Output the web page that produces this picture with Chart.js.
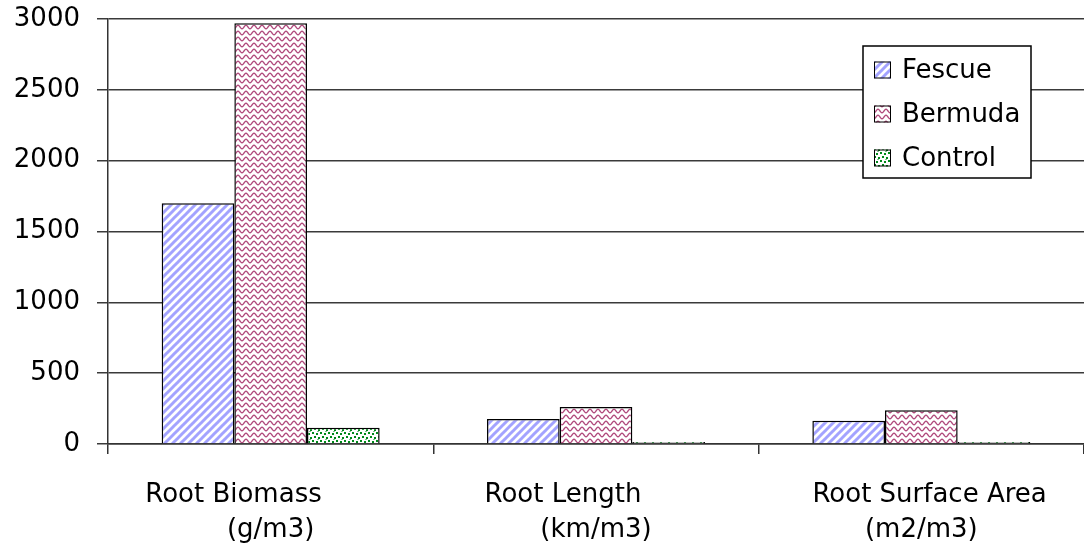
<!DOCTYPE html>
<html><head><meta charset="utf-8">
<script src="https://cdn.jsdelivr.net/npm/chart.js@4.4.0/dist/chart.umd.min.js"></script>
<style>html,body{margin:0;padding:0;background:#fff;}#wrap{width:1084px;height:552px;position:relative;}</style>
</head><body><div id="wrap"><canvas id="c"></canvas></div>
<script>
// ---- data ----
const categories = [['Root Biomass', '(g/m3)'], ['Root Length', '(km/m3)'], ['Root Surface Area', '(m2/m3)']];
const seriesNames = ['Fescue', 'Bermuda', 'Control'];
const fescue = [1700, 176, 165];
const bermuda = [2970, 262, 238];
const control = [115, 15, 15];
const yTicks = [0, 500, 1000, 1500, 2000, 2500, 3000];

// ---- styling ----
const FONT_FAMILY = '"DejaVu Sans", "Liberation Sans", sans-serif';
const FONT_SIZE = 26;
const line1Shift = [-39, -33, 10];

function makePattern(w, h, draw) {
  const c = document.createElement('canvas');
  c.width = w; c.height = h;
  const g = c.getContext('2d');
  g.fillStyle = '#fff'; g.fillRect(0, 0, w, h);
  draw(g);
  return document.getElementById('c').getContext('2d').createPattern(c, 'repeat');
}
const fescuePat = makePattern(8, 8, g => {
  g.strokeStyle = '#a3a3ff'; g.lineWidth = 3;
  [[-1, 9, 9, -1], [-1, 1, 1, -1], [7, 9, 9, 7]].forEach(([a, b, c, d]) => {
    g.beginPath(); g.moveTo(a, b); g.lineTo(c, d); g.stroke();
  });
});
const bermudaPat = makePattern(8, 6, g => {
  g.strokeStyle = '#b04a7c'; g.lineWidth = 1.3;
  g.beginPath();
  for (let x = -1; x <= 9; x += 0.5) {
    const y = 3 + 1.8 * Math.sin(2 * Math.PI * x / 8);
    if (x === -1) g.moveTo(x, y); else g.lineTo(x, y);
  }
  g.stroke();
});
const controlPat = makePattern(8, 8, g => {
  g.fillStyle = '#00891a';
  [[0, 0], [4, 1], [2, 4], [6, 5], [5, 7.5]].forEach(([x, y]) => g.fillRect(x, y % 8, 2, 2));
});
const patterns = [fescuePat, bermudaPat, controlPat];
const seriesValues = [fescue, bermuda, control];

const measureCtx = document.createElement('canvas').getContext('2d');
measureCtx.font = FONT_SIZE + 'px ' + FONT_FAMILY;
function shiftText(t, px) {
  const sp = measureCtx.measureText(' ').width;
  const n = Math.round(Math.abs(px) * 2 / sp);
  const pad = ' '.repeat(n);
  return px < 0 ? t + pad : pad + t;
}

const legendPlugin = {
  id: 'boxLegend',
  afterDraw(chart) {
    const ctx = chart.ctx;
    ctx.save();
    const x = 863, y = 46, w = 168, h = 132;
    ctx.fillStyle = '#fff'; ctx.fillRect(x, y, w, h);
    ctx.strokeStyle = '#000'; ctx.lineWidth = 1.5; ctx.strokeRect(x, y, w, h);
    ctx.font = FONT_SIZE + 'px ' + FONT_FAMILY;
    ctx.textBaseline = 'middle'; ctx.textAlign = 'left';
    chart.data.datasets.forEach((ds, i) => {
      const cy = 70 + i * 44;
      ctx.fillStyle = ds.backgroundColor;
      ctx.fillRect(874, cy - 8.5, 17, 17);
      ctx.lineWidth = 1; ctx.strokeStyle = '#000';
      ctx.strokeRect(874.5, cy - 8, 16, 16);
      ctx.fillStyle = '#000';
      ctx.fillText(ds.label, 902, cy + 1);
    });
    ctx.restore();
  }
};

new Chart(document.getElementById('c'), {
  type: 'bar',
  data: {
    labels: categories,
    datasets: seriesNames.map((name, i) => ({
      label: name,
      data: seriesValues[i],
      backgroundColor: patterns[i],
      borderColor: '#000',
      borderWidth: 1.5,
      categoryPercentage: 0.67,
      barPercentage: 1.0
    }))
  },
  options: {
    responsive: true,
    maintainAspectRatio: false,
    animation: false,
    events: [],
    layout: { padding: { top: 19, right: 0, left: 0, bottom: 0 } },
    plugins: { legend: { display: false }, tooltip: { enabled: false } },
    scales: {
      x: {
        offset: true,
        grid: { drawOnChartArea: false, drawTicks: true, tickLength: 10, color: '#333', lineWidth: 1.5, offset: true },
        border: { display: true, color: '#333', width: 1.5 },
        ticks: {
          color: '#000',
          font: { family: FONT_FAMILY, size: FONT_SIZE, lineHeight: 1.35 },
          padding: 24,
          maxRotation: 0,
          autoSkip: false,
          callback: function (v, i) {
            const lab = categories[i];
            return [shiftText(lab[0], line1Shift[i]), lab[1]];
          }
        },
        afterFit(scale) { scale.height = 108; scale.paddingLeft = 0; scale.paddingRight = 0; }
      },
      y: {
        min: 0, max: 3000,
        afterBuildTicks(scale) { scale.ticks = yTicks.map(v => ({ value: v })); },
        grid: { color: '#3a3a3a', lineWidth: 1.5, drawTicks: true, tickLength: 11 },
        border: { display: true, color: '#333', width: 1.5 },
        ticks: {
          color: '#000',
          font: { family: FONT_FAMILY, size: FONT_SIZE },
          padding: 17,
          callback: v => String(v)
        },
        afterFit(scale) { scale.width = 108; scale.paddingTop = 0; scale.paddingBottom = 0; }
      }
    }
  },
  plugins: [legendPlugin]
});
</script>
</body></html>
